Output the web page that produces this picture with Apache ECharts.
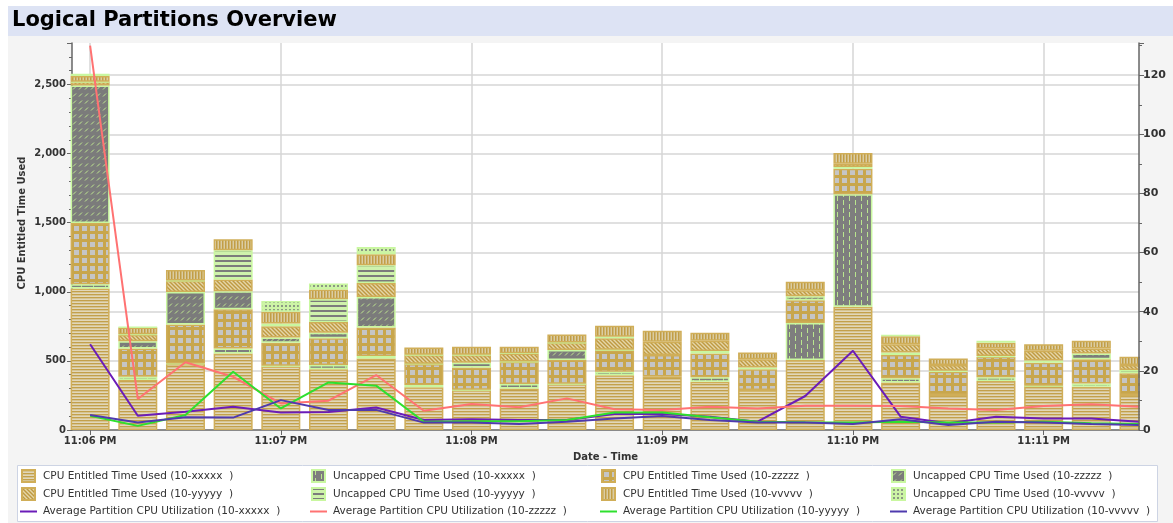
<!DOCTYPE html>
<html>
<head>
<meta charset="utf-8">
<script src="https://cdn.jsdelivr.net/npm/echarts@6/dist/echarts.min.js"></script>
<style>
  html, body { margin: 0; padding: 0; background: #ffffff; }
  #chart { width: 1173px; height: 523px; }
</style>
</head>
<body>
<div id="chart"></div>
<script>
// Sample times (one sample every 15 seconds)
const times = ['23:06:00','23:06:15','23:06:30','23:06:45','23:07:00','23:07:15','23:07:30','23:07:45',
               '23:08:00','23:08:15','23:08:30','23:08:45','23:09:00','23:09:15','23:09:30','23:09:45',
               '23:10:00','23:10:15','23:10:30','23:10:45','23:11:00','23:11:15','23:11:30'];

// CPU entitled / uncapped time used per partition (left axis)
const entitledX = [1024, 361, 478, 554, 462, 439, 518, 309, 289, 301, 332, 397, 385, 349, 289, 506, 891, 343, 253, 354, 318, 313, 253];
const uncappedX = [30, 24, 4, 36, 2, 31, 17, 16, 2, 31, 2, 24, 0, 32, 0, 269, 814, 31, 0, 27, 2, 24, 0];
const entitledZ = [444, 205, 282, 284, 167, 193, 207, 152, 162, 161, 172, 157, 157, 173, 150, 164, 186, 168, 168, 149, 166, 174, 157];
const uncappedZ = [995, 53, 235, 130, 39, 40, 221, 3, 33, 2, 72, 2, 0, 17, 14, 29, 11, 18, 7, 5, 16, 43, 24];
const entitledY = [24, 46, 80, 85, 81, 79, 101, 62, 56, 59, 53, 83, 96, 74, 58, 44, 25, 61, 42, 55, 71, 36, 36];
const uncappedY = [2, 3, 3, 211, 20, 164, 128, 2, 2, 2, 2, 11, 0, 0, 0, 0, 0, 0, 0, 0, 0, 0, 0];
const entitledV = [42, 50, 75, 80, 84, 71, 80, 53, 58, 46, 58, 80, 80, 58, 50, 60, 77, 58, 48, 41, 48, 55, 60];
const uncappedV = [16, 2, 0, 0, 79, 43, 52, 0, 0, 0, 0, 0, 0, 0, 0, 0, 0, 11, 0, 14, 0, 0, 0];

// Average partition CPU utilization, percent (right axis)
const avgUtilX = [29.0, 4.8, 6.2, 7.9, 5.9, 6.1, 7.6, 3.4, 3.6, 3.4, 3.4, 5.4, 5.4, 4.5, 2.8, 11.5, 26.8, 4.5, 2.3, 4.5, 3.9, 3.9, 2.8];
const avgUtilZ = [130, 10.5, 22.9, 18.0, 9.0, 9.9, 18.6, 6.5, 8.8, 7.7, 10.7, 7.0, 6.8, 7.9, 7.3, 8.2, 8.2, 8.1, 7.3, 6.8, 8.1, 8.7, 7.9];
const avgUtilY = [4.8, 1.4, 5.1, 19.7, 7.3, 16.1, 15.0, 2.8, 3.0, 3.0, 3.4, 5.9, 5.9, 4.3, 2.8, 2.6, 2.5, 2.8, 2.5, 2.5, 2.8, 2.3, 2.0];
const avgUtilV = [5.1, 2.5, 4.3, 4.2, 10.1, 6.8, 6.8, 2.5, 2.5, 2.0, 2.8, 3.9, 4.7, 3.4, 2.5, 2.5, 2.0, 3.6, 1.7, 2.8, 2.5, 2.0, 1.7];

const toStamp = t => { const [h, m, s] = t.split(':').map(Number); return new Date(2020, 0, 1, h, m, s).getTime(); };
const stamps = times.map(toStamp);

// ---- fill patterns ----
function makeTile(w, h, bg, paint) {
  const c = document.createElement('canvas');
  c.width = w; c.height = h;
  const g = c.getContext('2d');
  g.fillStyle = bg; g.fillRect(0, 0, w, h);
  paint(g);
  return c;
}
function px(g, color, x, y, w, h) { g.fillStyle = color; g.fillRect(x, y, w, h); }
const pattern = img => ({ image: img, repeat: 'repeat' });

const patEntX = pattern(makeTile(4, 3, '#d5c493', g => { px(g, '#c3a04b', 0, 0, 4, 1); px(g, '#e2d7b9', 0, 2, 4, 1); }));
const patUncX = pattern(makeTile(12, 8, '#7e7e7e', g => {
  px(g, '#b9e68e', 3, 0, 1, 5); px(g, '#b9e68e', 9, 4, 1, 4); px(g, '#b9e68e', 9, 0, 1, 1);
}));
const patEntZ = pattern(makeTile(8, 8, '#c8a64c', g => { px(g, '#c5c5c5', 2, 2, 5, 5); }));
const patUncZ = pattern(makeTile(6, 7, '#7b7b7b', g => {
  g.strokeStyle = '#c0e890'; g.lineWidth = 1;
  g.beginPath(); g.moveTo(1, 5.5); g.lineTo(4, 2.5); g.stroke();
}));
const patEntY = pattern(makeTile(4, 4, '#d2b872', g => {
  for (let i = 0; i < 4; i++) { px(g, '#bd9843', i, i, 1, 1); px(g, '#e4d5aa', (i + 2) % 4, i, 1, 1); }
}));
const patUncY = pattern(makeTile(2, 5, '#cff2ac', g => { px(g, '#7c7c7c', 0, 0, 2, 2); }));
const patEntV = pattern(makeTile(3, 2, '#dacca4', g => { px(g, '#c19d47', 0, 0, 1, 2); px(g, '#cfb672', 1, 0, 1, 2); }));
const patUncV = pattern(makeTile(4, 4, '#cdf4a6', g => { px(g, '#8c9984', 1, 1, 2, 2); }));

const ENT_BORDER = '#d0ae58';
const UNC_BORDER = '#c9f7a0';

const barDefs = [
  { name: 'CPU Entitled Time Used (10-xxxxx  )', values: entitledX, fill: patEntX, border: ENT_BORDER },
  { name: 'Uncapped CPU Time Used (10-xxxxx  )', values: uncappedX, fill: patUncX, border: UNC_BORDER },
  { name: 'CPU Entitled Time Used (10-zzzzz  )', values: entitledZ, fill: patEntZ, border: ENT_BORDER },
  { name: 'Uncapped CPU Time Used (10-zzzzz  )', values: uncappedZ, fill: patUncZ, border: UNC_BORDER },
  { name: 'CPU Entitled Time Used (10-yyyyy  )', values: entitledY, fill: patEntY, border: ENT_BORDER },
  { name: 'Uncapped CPU Time Used (10-yyyyy  )', values: uncappedY, fill: patUncY, border: UNC_BORDER },
  { name: 'CPU Entitled Time Used (10-vvvvv  )', values: entitledV, fill: patEntV, border: ENT_BORDER },
  { name: 'Uncapped CPU Time Used (10-vvvvv  )', values: uncappedV, fill: patUncV, border: UNC_BORDER }
];
const lineDefs = [
  { name: 'Average Partition CPU Utilization (10-xxxxx  )', values: avgUtilX, color: '#6b1cb8' },
  { name: 'Average Partition CPU Utilization (10-zzzzz  )', values: avgUtilZ, color: '#ff7272' },
  { name: 'Average Partition CPU Utilization (10-yyyyy  )', values: avgUtilY, color: '#2ee02e' },
  { name: 'Average Partition CPU Utilization (10-vvvvv  )', values: avgUtilV, color: '#4f3aae' }
];

// Plot geometry
const GRID = { left: 72, right: 34, top: 43, bottom: 93 };
const PLOT_WIDTH = 1173 - GRID.left - GRID.right;
const PLOT_RIGHT = 1173 - GRID.right;
const BAR_WIDTH = 39;

// Visible time window; the bar layout widens a time axis by one bar width,
// so the configured extent is narrowed by the same amount beforehand.
const viewMin = stamps[0] - 5700;
const viewMax = stamps[stamps.length - 1];
const viewSpan = viewMax - viewMin;
const barPad = (viewSpan - viewSpan * (1 - BAR_WIDTH / PLOT_WIDTH)) / 2;

const barSeries = barDefs.map(d => ({
  name: d.name,
  type: 'bar',
  stack: 'cpu',
  barWidth: BAR_WIDTH,
  clip: true,
  yAxisIndex: 0,
  itemStyle: { color: d.fill, borderColor: d.border, borderWidth: 1.5 },
  emphasis: { disabled: true },
  data: stamps.map((t, i) => [t, d.values[i] === 0 ? '-' : d.values[i]])
}));
const lineSeries = lineDefs.map(d => ({
  name: d.name,
  type: 'line',
  yAxisIndex: 1,
  symbol: 'none',
  clip: true,
  z: 5,
  color: d.color,
  lineStyle: { color: d.color, width: 2 },
  emphasis: { disabled: true },
  data: stamps.map((t, i) => [t, d.values[i]])
}));

const AXIS_FONT = { fontFamily: 'DejaVu Sans', fontWeight: 'bold', fontSize: 10, color: '#333' };
const GRID_LINE = { color: '#d6d6d6', width: 1.5 };
const AXIS_LINE = { color: '#666', width: 1.5 };

function timeLabel(v) {
  const d = new Date(v);
  if (d.getSeconds() !== 0 || d.getMilliseconds() !== 0) return '';
  const h = d.getHours();
  const mm = String(d.getMinutes()).padStart(2, '0');
  return (h % 12 || 12) + ':' + mm + ' ' + (h >= 12 ? 'PM' : 'AM');
}

const legendText = { fontFamily: 'DejaVu Sans', fontSize: 10.5, color: '#333', padding: [0, 0, 0, 3] };
function barLegend(names, left) {
  return {
    data: names.map(n => ({ name: n, icon: 'rect' })), left: left, top: 469, orient: 'vertical', padding: 0,
    itemWidth: 13, itemHeight: 12, itemGap: 4, selectedMode: false, textStyle: legendText
  };
}
function lineLegend(name, left) {
  return {
    data: [{ name: name, icon: 'rect' }], left: left, top: 506, orient: 'vertical', padding: 0,
    itemWidth: 17, itemHeight: 2, itemGap: 4, selectedMode: false,
    textStyle: Object.assign({}, legendText, { padding: [0, 0, 0, 1] })
  };
}

const RIGHT_MAX = 130.9;

const option = {
  animation: false,
  backgroundColor: 'transparent',
  graphic: [
    { type: 'rect', z: -10, shape: { x: 8, y: 36, width: 1165, height: 487 }, style: { fill: '#f4f4f4' } },
    { type: 'rect', z: -10, shape: { x: 8, y: 6, width: 1165, height: 30 }, style: { fill: '#dde3f4' } },
    // panel margin to the right of the plot, kept above the series so the
    // last half bar ends at the right axis
    { type: 'rect', z: 8, shape: { x: PLOT_RIGHT + 1, y: 36, width: 1173 - PLOT_RIGHT - 1, height: 396 }, style: { fill: '#f4f4f4' } },
    { type: 'text', z: 10, style: { x: 12, y: 21, text: 'Logical Partitions Overview', font: 'bold 21px "DejaVu Sans"', fill: '#000', verticalAlign: 'middle' } },
    { type: 'text', z: 10, x: 22, y: 223, rotation: Math.PI / 2,
      style: { x: 0, y: 0, text: 'CPU Entitled Time Used', font: 'bold 10px "DejaVu Sans"', fill: '#333', align: 'center', verticalAlign: 'middle' } },
    { type: 'rect', z: -5, shape: { x: 17.5, y: 465.5, width: 1140, height: 56 }, style: { fill: '#ffffff', stroke: '#cdd4e4', lineWidth: 1 } }
  ],
  grid: Object.assign({ show: true, backgroundColor: '#ffffff', borderWidth: 0 }, GRID),
  legend: [
    barLegend([barDefs[0].name, barDefs[4].name], 21),
    barLegend([barDefs[1].name, barDefs[5].name], 311),
    barLegend([barDefs[2].name, barDefs[6].name], 601),
    barLegend([barDefs[3].name, barDefs[7].name], 891),
    lineLegend(lineDefs[0].name, 20),
    lineLegend(lineDefs[1].name, 310),
    lineLegend(lineDefs[2].name, 600),
    lineLegend(lineDefs[3].name, 890)
  ],
  xAxis: {
    type: 'time',
    min: viewMin + barPad,
    max: viewMax - barPad,
    minInterval: 60000,
    maxInterval: 60000,
    name: 'Date - Time',
    nameLocation: 'middle',
    nameGap: 22,
    nameTextStyle: AXIS_FONT,
    axisLine: { show: true, lineStyle: AXIS_LINE },
    axisTick: { show: true, length: 5, lineStyle: { color: '#666' } },
    axisLabel: Object.assign({ formatter: timeLabel, margin: 6, showMinLabel: false, showMaxLabel: false, hideOverlap: false }, AXIS_FONT),
    splitLine: { show: true, showMinLine: false, showMaxLine: false, lineStyle: GRID_LINE }
  },
  yAxis: [
    // left: CPU time (labels, ticks, grid lines)
    {
      type: 'value', position: 'left', min: 0, max: 2800, interval: 500,
      axisLine: { show: true, lineStyle: AXIS_LINE },
      axisTick: { show: true, length: 5, lineStyle: { color: '#666' } },
      axisLabel: Object.assign({ margin: 6, formatter: v => (v % 500 ? '' : v.toLocaleString('en-US')) }, AXIS_FONT),
      splitLine: { show: true, showMinLine: false, showMaxLine: false, lineStyle: GRID_LINE }
    },
    // right: utilization scale used by the lines (grid lines only)
    {
      type: 'value', position: 'right', min: 0, max: RIGHT_MAX, interval: 20,
      axisLine: { show: false }, axisTick: { show: false }, axisLabel: { show: false },
      splitLine: { show: true, showMinLine: false, showMaxLine: false, lineStyle: GRID_LINE }
    },
    // left minor ticks
    {
      type: 'value', position: 'left', min: 0, max: 2800, interval: 100,
      axisLine: { show: false }, axisLabel: { show: false }, splitLine: { show: false },
      axisTick: { show: true, length: 3, lineStyle: { color: '#666' } }
    },
    // right minor ticks
    {
      type: 'value', position: 'right', min: 0, max: RIGHT_MAX, interval: 10, z: 12,
      axisLine: { show: false }, axisLabel: { show: false }, splitLine: { show: false },
      axisTick: { show: true, length: 3, lineStyle: { color: '#666' } }
    },
    // right axis line, major ticks and labels
    {
      type: 'value', position: 'right', min: 0, max: RIGHT_MAX, interval: 20, z: 12,
      axisLine: { show: true, lineStyle: AXIS_LINE },
      axisTick: { show: true, length: 5, lineStyle: { color: '#666' } },
      axisLabel: Object.assign({ margin: 4, formatter: v => (v % 20 ? '' : String(v)) }, AXIS_FONT, { fontSize: 11 }),
      splitLine: { show: false }
    }
  ],
  series: barSeries.concat(lineSeries)
};

const chart = echarts.init(document.getElementById('chart'), null, { renderer: 'canvas' });
chart.setOption(option);
</script>
</body>
</html>
